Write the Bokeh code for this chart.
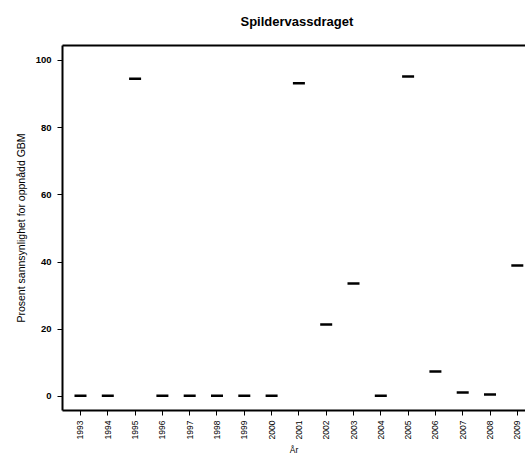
import math
from bokeh.plotting import figure
from bokeh.models import Range1d, FixedTicker, LinearAxis
from bokeh.embed import file_html
from bokeh.resources import INLINE

years = [str(y) for y in range(1993, 2010)]
values = [0.2, 0.2, 94.6, 0.2, 0.2, 0.2, 0.2, 0.2, 93.2, 21.4, 33.6, 0.2, 95.2, 7.4, 1.2, 0.6, 39.0]
y_ticks = [0, 20, 40, 60, 80, 100]

xs = list(range(1, len(years) + 1))

p = figure(width=525, height=462, output_backend="svg", toolbar_location=None,
           x_range=Range1d(0.341, 17.30), y_range=Range1d(-4.17, 104.46),
           min_border_left=62, min_border_right=0, min_border_top=45, min_border_bottom=52,
           title="Spildervassdraget")
p.grid.visible = False
p.outline_line_color = None
p.background_fill_color = "white"

p.title.text_font = "Liberation Sans"
p.title.text_font_size = "13px"
p.title.text_font_style = "bold"
p.title.align = "left"
p.title.offset = 178
p.title.standoff = 22
p.title.text_color = "black"

p.scatter(xs, values, marker="dash", size=12, line_width=2.5, line_color="black")

xa = p.xaxis[0]
xa.ticker = FixedTicker(ticks=xs)
xa.major_label_overrides = {i: y for i, y in zip(xs, years)}
xa.major_label_orientation = math.pi / 2
xa.major_label_text_font = "Liberation Sans"
xa.major_label_text_font_size = "8.5px"
xa.major_label_text_color = "black"
xa.major_label_standoff = 5
xa.axis_label = "År"
xa.axis_label_text_font = "Liberation Sans"
xa.axis_label_text_font_size = "8.5px"
xa.axis_label_text_font_style = "normal"
xa.axis_label_text_color = "black"
xa.axis_label_standoff = 3
xa.minor_tick_line_color = None
xa.major_tick_out = 5
xa.major_tick_in = 0
xa.axis_line_width = 2
xa.major_tick_line_width = 1

ya = p.yaxis[0]
ya.ticker = FixedTicker(ticks=y_ticks)
ya.major_label_text_font = "Liberation Sans"
ya.major_label_text_font_size = "9.5px"
ya.major_label_text_font_style = "bold"
ya.major_label_text_color = "black"
ya.major_label_standoff = 6
ya.axis_label = "Prosent sannsynlighet for oppnådd GBM"
ya.axis_label_text_font = "Liberation Sans"
ya.axis_label_text_font_size = "10.5px"
ya.axis_label_text_font_style = "normal"
ya.axis_label_text_color = "black"
ya.axis_label_standoff = 6
ya.minor_tick_line_color = None
ya.major_tick_out = 5
ya.major_tick_in = 0
ya.axis_line_width = 2
ya.major_tick_line_width = 1

top = LinearAxis(ticker=FixedTicker(ticks=xs), major_tick_line_color=None,
                 minor_tick_line_color=None, major_label_text_font_size="1px",
                 major_label_text_alpha=0, axis_line_width=2, axis_line_color="black",
                 major_label_standoff=0)
p.add_layout(top, "above")

open("out.html", "w").write(file_html(p, INLINE))
